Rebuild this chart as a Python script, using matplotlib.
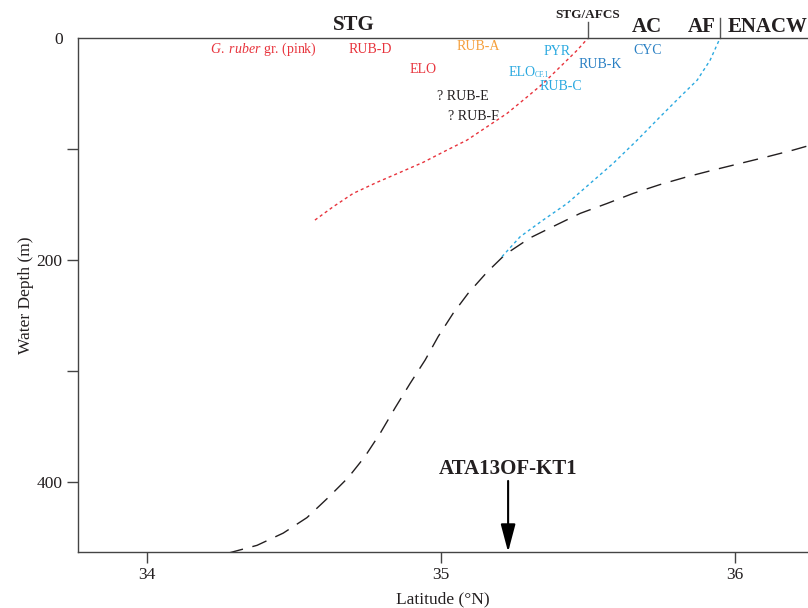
import matplotlib
matplotlib.use('Agg')
import matplotlib.pyplot as plt

plt.rcParams['font.family'] = ['Liberation Serif', 'DejaVu Serif']
plt.rcParams['mathtext.fontset'] = 'custom'
plt.rcParams['mathtext.rm'] = 'Liberation Serif'
plt.rcParams['mathtext.it'] = 'Liberation Serif:italic'

# black dashed profile (latitude, depth)
thermo_lat = [34.276, 34.374, 34.463, 34.544, 34.616, 34.684, 34.741, 34.793, 34.844,
              34.895, 34.946, 34.990, 35.041, 35.092, 35.156, 35.218, 35.303, 35.395,
              35.473, 35.565, 35.653, 35.745, 35.837, 35.925, 36.017, 36.109, 36.197, 36.25]
thermo_depth = [464, 457, 446, 432, 414, 396, 377, 356, 333, 311, 290, 269, 248, 230,
                211, 195, 180, 168, 158, 149, 140, 132, 125, 119, 113, 107, 101, 97]

# red dotted profile
red_lat = [34.571, 34.633, 34.701, 34.782, 34.861, 34.939, 35.020, 35.088, 35.156,
           35.224, 35.293, 35.347, 35.405, 35.463, 35.50]
red_depth = [164, 152, 140, 130, 121, 112, 101, 92, 80, 68, 53, 41, 26, 11, 0]

# blue dotted profile
blue_lat = [35.207, 35.269, 35.347, 35.429, 35.507, 35.585, 35.667, 35.745, 35.813,
            35.871, 35.915, 35.949]
blue_depth = [197, 179, 164, 149, 131, 113, 92, 71, 53, 38, 20, 0]

RED = '#e8333c'
ORANGE = '#f5a03c'
LBLUE = '#2aa9e0'
MBLUE = '#2a80c4'
DARK = '#231f20'

# species labels: text, lat, depth, colour
labels = [
    ('$\\mathit{G.\\ ruber}$ gr. (pink)', 34.395, 10, RED),
    ('RUB-D', 34.759, 10, RED),
    ('RUB-A', 35.126, 8, ORANGE),
    ('PYR', 35.395, 12.5, LBLUE),
    ('ELO', 34.939, 28, RED),
    ('RUB-K', 35.541, 23.5, MBLUE),
    ('CYC', 35.701, 11, MBLUE),
    ('RUB-C', 35.408, 44, LBLUE),
    ('? RUB-E', 35.075, 52.5, DARK),
    ('? RUB-F', 35.109, 70.5, DARK),
]

# water mass names above the axis
masses = [('STG', 34.704, -11.5, 15), ('STG/AFCS', 35.497, -20.5, 9.5),
          ('AC', 35.701, -10, 15), ('AF', 35.888, -10, 15), ('ENACW', 36.112, -10, 15)]
fronts = [(35.5, -14.5), (35.949, -18)]

core_lat = 35.228

fig = plt.figure(figsize=(8.08, 6.08), dpi=100)
ax = fig.add_axes([0.0965, 0.0921, 0.9035, 0.8454])

ax.plot(thermo_lat, thermo_depth, color=DARK, lw=1.0, dashes=(11, 7))
ax.plot(red_lat, red_depth, color=RED, lw=1.0, dashes=(2.2, 2.2))
ax.plot(blue_lat, blue_depth, color=LBLUE, lw=1.0, dashes=(2.2, 2.2))

for txt, x, y, c in labels:
    ax.text(x, y, txt, color=c, fontsize=10, ha='center', va='center')
# ELO with a small CF.1 subscript
ax.text(35.275, 31, 'ELO', color=LBLUE, fontsize=10, ha='center', va='center')
ax.text(35.318, 33, 'CF.1', color=LBLUE, fontsize=5.5, ha='left', va='center')

for txt, x, y, fs in masses:
    ax.text(x, y, txt, color=DARK, fontsize=fs, fontweight='bold',
            ha='center', va='center', clip_on=False)
for x, y in fronts:
    ax.plot([x, x], [y, 0], color='#555555', lw=1.0, clip_on=False)

ax.annotate('', xy=(core_lat, 463), xytext=(core_lat, 399),
            arrowprops=dict(arrowstyle='-|>,head_length=1.7,head_width=0.45',
                            color='black', lw=1.5, shrinkA=0, shrinkB=0))
ax.text(core_lat, 388, 'ATA13OF-KT1', fontsize=15, fontweight='bold',
        ha='center', va='center', color=DARK)

ax.set_xlim(33.765, 36.248)
ax.set_ylim(463, 0)
ax.set_xticks([34, 35, 36])
ax.set_yticks([0, 100, 200, 300, 400])
ax.set_yticklabels(['0', '', '200', '', '400'])
ax.yaxis.get_major_ticks()[0].tick1line.set_visible(False)
ax.tick_params(direction='out', length=8, width=1, colors='#444444',
               labelcolor=DARK, labelsize=12.5, pad=3)
ax.spines['right'].set_visible(False)
for s in ['left', 'top', 'bottom']:
    ax.spines[s].set_color('#444444')
    ax.spines[s].set_linewidth(1.0)

ax.set_xlabel('Latitude (°N)', fontsize=12.5, color=DARK, labelpad=6)
ax.set_ylabel('Water Depth (m)', fontsize=12.5, color=DARK, labelpad=2)

fig.savefig('out.png', dpi=100)
